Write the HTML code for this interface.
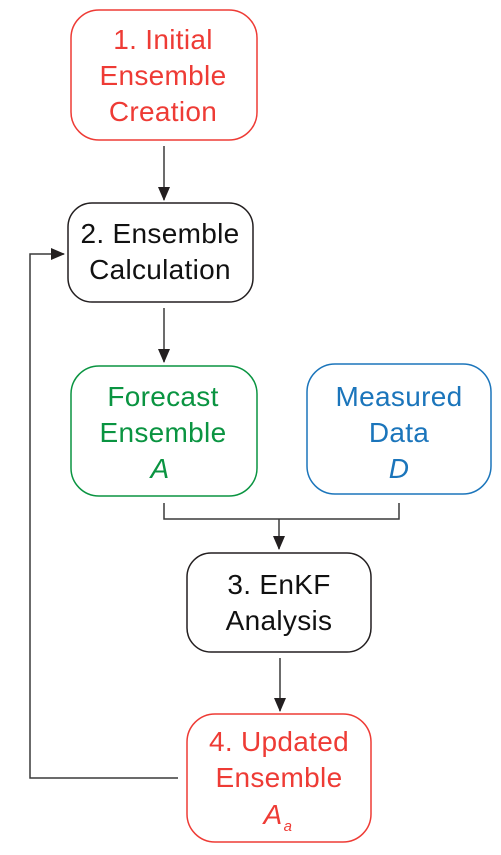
<!DOCTYPE html>
<html><head><meta charset="utf-8"><style>
html,body{margin:0;padding:0;background:#fff}
svg{display:block}
text{font-family:"Liberation Sans",sans-serif;font-size:28px;text-anchor:middle;letter-spacing:0.3px}
</style></head><body>
<svg width="501" height="855" viewBox="0 0 501 855">
<defs>
<marker id="b" markerWidth="14" markerHeight="16" refX="13" refY="8" orient="auto" markerUnits="userSpaceOnUse"><path d="M0,2 L14,8 L0,14 Z" fill="#231f20"/></marker></defs>
<g fill="none" stroke-width="1.5">
<rect x="71" y="10" width="186" height="130" rx="28" stroke="#ee3b35"/>
<rect x="68" y="203" width="185" height="99" rx="24" stroke="#231f20"/>
<rect x="71" y="366" width="186" height="130" rx="28" stroke="#0a9441"/>
<rect x="307" y="364" width="184" height="130" rx="28" stroke="#1b75bb"/>
<rect x="187" y="553" width="184" height="99" rx="24" stroke="#231f20"/>
<rect x="187" y="714" width="184" height="128" rx="28" stroke="#ee3b35"/>
<g stroke="#3a3a3a" stroke-width="1.5">
<line x1="164" y1="146" x2="164" y2="200" marker-end="url(#b)"/>
<line x1="164" y1="308" x2="164" y2="362" marker-end="url(#b)"/>
<polyline points="164,503 164,519 399,519 399,503"/>
<line x1="279" y1="519" x2="279" y2="549" marker-end="url(#b)"/>
<line x1="280" y1="658" x2="280" y2="711" marker-end="url(#b)"/>
<polyline points="178,778 30,778 30,254 64,254" marker-end="url(#b)"/>
</g></g>
<g fill="#ee3b35"><text x="163" y="49">1. Initial</text><text x="163" y="85">Ensemble</text><text x="163" y="121">Creation</text></g>
<g fill="#111"><text x="160" y="243">2. Ensemble</text><text x="160" y="279">Calculation</text>
<text x="279" y="594">3. EnKF</text><text x="279" y="630">Analysis</text></g>
<g fill="#0a9441"><text x="163" y="406">Forecast</text><text x="163" y="442">Ensemble</text><text x="160" y="478" font-style="italic">A</text></g>
<g fill="#1b75bb"><text x="399" y="406">Measured</text><text x="399" y="442">Data</text><text x="399" y="478" font-style="italic">D</text></g>
<g fill="#ee3b35"><text x="279" y="751">4. Updated</text><text x="279" y="787">Ensemble</text><text x="273" y="824" font-style="italic">A</text><text x="288" y="831" font-style="italic" style="font-size:15px">a</text></g>
</svg>
</body></html>
